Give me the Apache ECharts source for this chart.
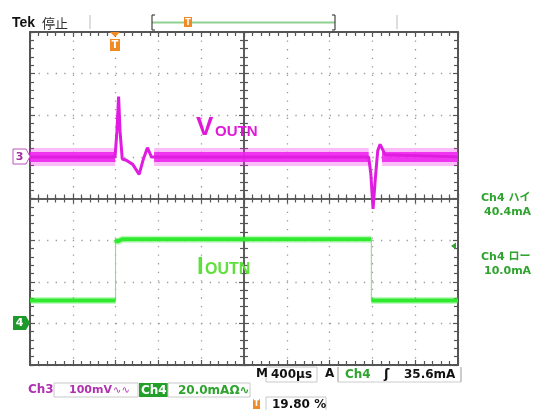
<!DOCTYPE html>
<html><head><meta charset="utf-8">
<script src="https://cdn.jsdelivr.net/npm/echarts@6/dist/echarts.min.js"></script>
<style>html,body{margin:0;padding:0;background:#fff}#c{width:538px;height:410px}</style>
</head><body><div id="c"></div>
<script>
// ---- data (time in µs, Ch3 in mV, Ch4 in mA) ----
var ch3Time = [0, 795, 812, 828, 842, 862, 900, 960, 1020, 1060, 1097, 1135, 1180, 3165, 3185, 3206, 3228, 3250, 3272, 3320, 4000];
var ch3Mv   = [0, 0, 60, 145, 60, -5, -8, -18, -42, -5, 22, 0, 0, 0, -40, -125, -50, 15, 30, 5, 0];
var ch3BandStart = [0, 1160, 3290];
var ch3BandEnd   = [795, 3165, 4000];
var ch3BaselineMv = 0;
var ch4Time = [0, 800, 800, 815, 860, 3190, 3190, 4000];
var ch4Ma   = [11, 11, 40.4, 39.2, 40.4, 40.4, 11, 11];
var timeTicksUs = [0, 400, 800, 1200, 1600, 2000, 2400, 2800, 3200, 3600, 4000];

function pairs(t, v){ return t.map(function(x,i){ return [x, v[i]]; }); }
var ch3Data = pairs(ch3Time, ch3Mv);
var ch4Data = pairs(ch4Time, ch4Ma);
var bandData = [];
ch3BandStart.forEach(function(s,i){
  if(i>0) bandData.push([s,'-']);
  bandData.push([s, ch3BaselineMv]); bandData.push([ch3BandEnd[i], ch3BaselineMv]);
});
var ch4Levels = [];
ch4Time.forEach(function(t,i){
  if(i>0 && t===ch4Time[i-1]) ch4Levels.push([t,'-']);
  ch4Levels.push([t, ch4Ma[i]]);
});

var FR = '#555', DOT = '#9a9a9a';
var hid = {show:false};
function xAx(pos, off, inside, split){
  return {type:'value', min:0, max:4000, interval:400, position:pos, offset:off,
    axisLine:{show:true, onZero:false, lineStyle:{color:FR, width: off===0?2:1.5}},
    axisTick:{show:true, inside:inside, length:5, lineStyle:{color:FR, width:1.2}},
    minorTick:{show:true, splitNumber:5, length:4, lineStyle:{color:FR, width:1.2}},
    axisLabel:hid,
    splitLine: split ? {show:true, lineStyle:{color:DOT, width:1.3, type:[1.3, 7.26]}} : hid};
}
function yAx(min,max,iv,pos,off,inside,split){
  return {type:'value', min:min, max:max, interval:iv, position:pos, offset:off,
    axisLine:{show:true, onZero:false, lineStyle:{color:FR, width: off===0?2:1.5}},
    axisTick:{show:true, inside:inside, length:5, lineStyle:{color:FR, width:1.2}},
    minorTick:{show:true, splitNumber:5, length:4, lineStyle:{color:FR, width:1.2}},
    axisLabel:hid,
    splitLine: split ? {show:true, lineStyle:{color:DOT, width:1.3, type:[1.3, 7.26]}} : hid};
}

var green='#2ea42e', mag='#b030b0';
var F = '"DejaVu Sans", Verdana, sans-serif';
var A = 'Arial, "Liberation Sans", sans-serif';
function T(text,x,y,size,color,bold,align,fam){
  return {type:'text', z:100, style:{text:text, x:x, y:y, fill:color||'#000',
    font:(bold?'bold ':'')+size+'px '+(fam||F), align:align||'left', verticalAlign:'middle'}};
}
function R(x,y,w,h,fill,stroke){ return {type:'rect', z:90, shape:{x:x,y:y,width:w,height:h}, style:{fill:fill||'none', stroke:stroke||'none', lineWidth:1}}; }
function L(x1,y1,x2,y2,c,w){ return {type:'line', z:90, shape:{x1:x1,y1:y1,x2:x2,y2:y2}, style:{stroke:c, lineWidth:w||1}}; }
function P(pts,fill,stroke){ return {type:'polygon', z:95, shape:{points:pts}, style:{fill:fill, stroke:stroke||'none', lineWidth:1}}; }

var graphics = [
  T('Tek',12,23,14,'#111',true,'left',A),
  T('停止',42,23,13,'#333',false,'left','"Noto Sans CJK JP", sans-serif'),
  // record bar
  L(90,15,90,29,'#bbb',1), L(397,15,397,29,'#bbb',1),
  L(152,22.5,335,22.5,'#8fcf8f',2),
  L(152,15,152,30,'#444',1.2), L(152,15,155,15,'#444',1.2), L(152,30,155,30,'#444',1.2),
  L(335,15,335,30,'#444',1.2), L(335,15,332,15,'#444',1.2), L(335,30,332,30,'#444',1.2),
  P([[184,17],[192,17],[192,27],[184,27]],'#f08a24'),
  T('T',188,22.5,8,'#fff',true,'center'),
  // trigger position marker
  P([[110,32],[120,32],[115,37]],'#f08a24'),
  P([[110,39],[120,39],[120,51],[110,51]],'#f08a24'),
  T('T',115,45.5,10,'#fff',true,'center'),
  // channel markers
  P([[13,149],[26,149],[30,156.5],[26,164],[13,164]],'#fff','#c050c0'),
  T('3',19.5,157,11,'#a030a0',true,'center'),
  P([[13,316],[26,316],[30,323],[26,330],[13,330]],'#1e9a2a'),
  T('4',19.5,323.5,11,'#fff',true,'center'),
  // trace labels
  T('V',196,128,26,'#e018d8',true,'left',A),
  T('OUTN',215,131.5,15,'#e018d8',true,'left',A),
  T('I',197,267,24,'#5ee03a',true,'left',A),
  T('OUTN',205,270,16,'#5ee03a',true,'left',A),
  // right readouts
  T('Ch4 ハイ',481,198,11,green,true,'left','"DejaVu Sans", "Noto Sans CJK JP", sans-serif'),
  T('40.4mA',484,212,11,green,true),
  T('Ch4 ロー',481,257,11,green,true,'left','"DejaVu Sans", "Noto Sans CJK JP", sans-serif'),
  T('10.0mA',484,271,11,green,true),
  P([[451,246],[456,242.5],[456,249.5]],green),
  // bottom readouts
  T('M',256,374,12,'#111',true),
  R(266,367,51,15,'#fff','#c8c8c8'),
  T('400µs',271,374.5,12,'#111',true),
  T('A',325,374,12,'#111',true),
  L(338,367,338,382,'#999',1), L(338,382,461,382,'#ccc',1), L(461,367,461,382,'#999',1),
  T('Ch4',345,374.5,12,green,true),
  T('ʃ',384,374.5,13,'#111',true),
  T('35.6mA',404,374.5,12,'#111',true),
  T('Ch3',28,390,12,mag,true),
  R(54,383,84,14,'#fff','#c8c8c8'),
  T('100mV',69,390.5,11,mag,true),
  T('∿∿',113,390.5,10,mag,false),
  R(139,383,29,14,'#22a02a'),
  T('Ch4',141,390.5,12,'#fff',true),
  R(168,383,82,14,'#fff','#c8c8c8'),
  T('20.0mAΩ∿',178,390.5,12,green,true),
  P([[253,399],[260,399],[260,409],[253,409]],'#f08a24'),
  T('T',256.5,404,8,'#fff',true,'center'),
  R(266,397,60,14,'#fff','#c8c8c8'),
  T('19.80 %',272,404.5,12,'#111',true)
];

var chart = echarts.init(document.getElementById('c'), null, {renderer:'canvas'});
chart.setOption({
  backgroundColor:'#fff',
  animation:false,
  grid:{left:30, top:32, width:428, height:333, containLabel:false},
  xAxis:[ xAx('bottom',0,true,true), xAx('top',0,true,false),
          xAx('bottom',-166.5,true,false), xAx('bottom',-166.5,false,false) ],
  yAxis:[ yAx(-500,300,100,'left',0,true,true), yAx(-20,140,20,'right',0,true,false),
          yAx(-500,300,100,'left',-214,true,false), yAx(-500,300,100,'right',-214,true,false) ],
  graphic: graphics,
  series:[
    {type:'line', name:'Ch4 edges', xAxisIndex:0, yAxisIndex:1, data:ch4Data, symbol:'none',
     lineStyle:{color:'#7ee07e', width:1}, z:5},
    {type:'line', name:'Ch4 fuzz', xAxisIndex:0, yAxisIndex:1, data:ch4Levels, symbol:'none', connectNulls:false,
     lineStyle:{color:'#30ea30', width:7, opacity:0.3}, z:5},
    {type:'line', name:'Ch4', xAxisIndex:0, yAxisIndex:1, data:ch4Levels, symbol:'none', connectNulls:false,
     lineStyle:{color:'#30ea30', width:4}, z:6},
    {type:'line', name:'Ch3 band outer', xAxisIndex:0, yAxisIndex:0, data:bandData, symbol:'none', connectNulls:false,
     lineStyle:{color:'#ee26ee', width:18, opacity:0.3, cap:'butt'}, z:7},
    {type:'line', name:'Ch3 band', xAxisIndex:0, yAxisIndex:0, data:bandData, symbol:'none', connectNulls:false,
     lineStyle:{color:'#ee26ee', width:10, opacity:0.9, cap:'butt'}, z:7},
    {type:'line', name:'Ch3', xAxisIndex:0, yAxisIndex:0, data:ch3Data, symbol:'none',
     lineStyle:{color:'#e01ce0', width:3}, z:8}
  ]
});
</script></body></html>
